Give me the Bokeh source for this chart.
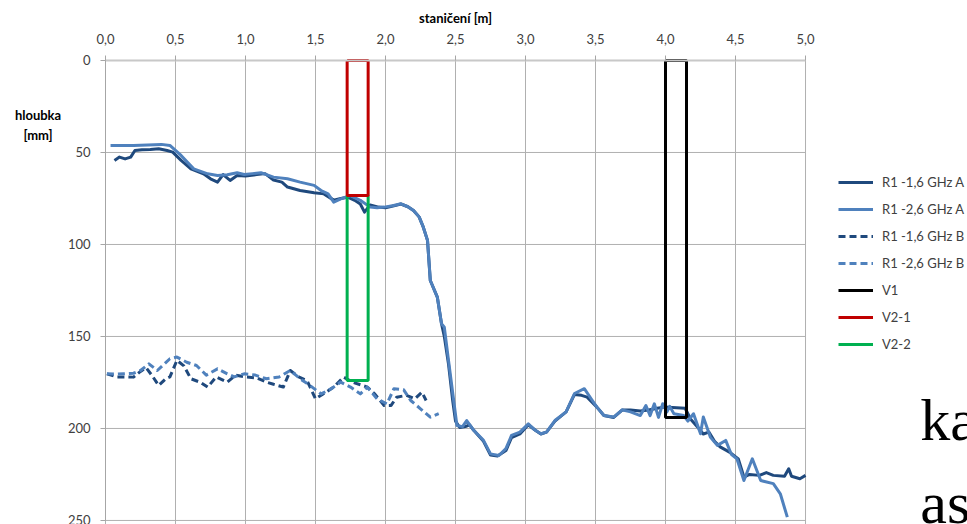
from bokeh.plotting import figure
from bokeh.models import Range1d, FixedTicker, Legend, LegendItem, Label
from bokeh.embed import file_html
from bokeh.resources import INLINE

# ---- data ----
x_ticks = [0.0, 0.5, 1.0, 1.5, 2.0, 2.5, 3.0, 3.5, 4.0, 4.5, 5.0]
x_tick_labels = ["0,0", "0,5", "1,0", "1,5", "2,0", "2,5", "3,0", "3,5", "4,0", "4,5", "5,0"]
y_ticks = [0, 50, 100, 150, 200, 250]

r16a_x = [0.064, 0.10, 0.14, 0.18, 0.21, 0.26, 0.32, 0.38, 0.44, 0.48, 0.54, 0.61, 0.70, 0.75, 0.80,
          0.84, 0.89, 0.94, 1.00, 1.08, 1.14, 1.20, 1.26, 1.30, 1.39, 1.49, 1.56, 1.63, 1.68, 1.73,
          1.78, 1.82, 1.85, 1.89, 1.95, 2.00, 2.06, 2.11, 2.16, 2.20, 2.24, 2.27, 2.30, 2.32, 2.37,
          2.40, 2.42, 2.45, 2.48, 2.50, 2.53, 2.57, 2.60, 2.63, 2.70, 2.75, 2.80, 2.86, 2.90, 2.96,
          3.02, 3.07, 3.11, 3.15, 3.21, 3.29, 3.35, 3.40, 3.44, 3.51, 3.56, 3.63, 3.69, 3.75, 3.82,
          3.88, 3.94, 3.99, 4.05, 4.14, 4.18, 4.23, 4.27, 4.31, 4.35, 4.39, 4.46, 4.52, 4.56, 4.60,
          4.67, 4.72, 4.77, 4.85, 4.88, 4.90, 4.96, 5.00]
r16a_y = [54.3, 52.5, 53.5, 52.5, 48.9, 48.5, 48.4, 48.0, 48.9, 49.8, 54.3, 58.9, 61.6, 64.3, 66.1,
          62.0, 65.2, 62.5, 62.8, 62.0, 61.5, 65.0, 66.1, 68.8, 70.7, 71.9, 72.5, 75.9, 75.0, 74.3,
          76.0, 78.0, 82.4, 78.5, 79.7, 80.0, 79.0, 78.0, 79.5, 81.5, 85.0, 90.6, 97.8, 119.6, 128.6,
          143.1, 150.0, 165.0, 185.0, 196.0, 199.5, 199.0, 198.0, 201.0, 207.0, 214.5, 215.0, 212.0, 205.0, 203.0,
          198.0, 201.0, 203.0, 202.0, 196.0, 191.0, 181.5, 182.0, 183.0, 188.4, 193.0, 194.0, 190.0, 190.0, 190.5,
          190.0, 189.0, 188.4, 188.6, 189.0, 195.0, 199.3, 203.0, 202.0, 207.0, 210.0, 213.0, 216.5, 226.4, 225.0,
          225.5, 224.0, 225.5, 226.0, 221.9, 226.0, 227.3, 225.5]

r26a_x = [0.036, 0.20, 0.35, 0.40, 0.46, 0.54, 0.63, 0.73, 0.80, 0.87, 0.94, 0.99, 1.05, 1.11, 1.20,
          1.30, 1.39, 1.49, 1.54, 1.59, 1.63, 1.68, 1.75, 1.82, 1.89, 1.94, 1.99, 2.05, 2.11, 2.16,
          2.20, 2.24, 2.27, 2.30, 2.32, 2.37, 2.40, 2.42, 2.45, 2.49, 2.51, 2.55, 2.58, 2.63, 2.70,
          2.75, 2.81, 2.86, 2.90, 2.96, 3.02, 3.07, 3.11, 3.15, 3.21, 3.29, 3.35, 3.42, 3.47, 3.51,
          3.56, 3.63, 3.69, 3.75, 3.82, 3.86, 3.89, 3.92, 3.95, 3.98, 4.01, 4.03, 4.06, 4.13, 4.16,
          4.20, 4.25, 4.27, 4.32, 4.37, 4.43, 4.47, 4.51, 4.56, 4.62, 4.68, 4.77, 4.82, 4.87]
r26a_y = [46.2, 46.2, 45.8, 45.6, 46.2, 51.6, 58.9, 61.6, 62.5, 62.1, 61.0, 62.0, 61.5, 61.0, 63.4,
          64.3, 66.1, 67.9, 70.7, 72.5, 77.0, 75.2, 73.4, 76.0, 79.7, 80.0, 79.7, 79.0, 77.9, 79.5,
          81.5, 85.0, 90.6, 97.8, 119.6, 128.6, 143.1, 145.0, 163.0, 186.6, 198.4, 199.0, 195.7, 201.0, 206.5,
          213.8, 214.7, 211.0, 203.8, 202.0, 197.5, 201.0, 202.9, 202.0, 195.7, 191.0, 181.0, 178.4, 184.0, 188.4,
          193.0, 193.8, 189.9, 191.0, 193.0, 187.5, 193.0, 186.6, 194.0, 186.6, 191.0, 188.0, 192.0, 193.0, 196.0,
          192.0, 202.9, 193.8, 204.7, 209.2, 206.5, 214.0, 216.5, 228.3, 216.5, 228.3, 230.0, 235.5, 248.2]

r16b_x = [0.01, 0.08, 0.14, 0.20, 0.25, 0.29, 0.33, 0.38, 0.43, 0.46, 0.51, 0.56, 0.61, 0.68, 0.73,
          0.79, 0.87, 0.93, 1.00, 1.08, 1.15, 1.20, 1.27, 1.32, 1.38, 1.44, 1.50, 1.56, 1.63, 1.70,
          1.77, 1.87, 1.92, 1.99, 2.04, 2.08, 2.15, 2.21, 2.26, 2.29]
r16b_y = [170.3, 172.0, 172.0, 172.1, 169.0, 167.0, 171.0, 176.6, 173.0, 172.0, 163.0, 166.0, 173.0, 175.0, 177.5,
          172.0, 174.8, 171.0, 172.0, 172.5, 174.8, 176.0, 177.5, 168.5, 172.0, 174.0, 183.9, 181.0, 177.5, 172.1,
          175.0, 177.5, 181.0, 187.5, 187.5, 183.0, 182.0, 183.9, 180.3, 184.8]

r26b_x = [0.01, 0.08, 0.13, 0.20, 0.25, 0.31, 0.37, 0.46, 0.51, 0.58, 0.65, 0.72, 0.80, 0.87, 0.92,
          0.99, 1.07, 1.15, 1.24, 1.32, 1.39, 1.46, 1.54, 1.61, 1.68, 1.75, 1.82, 1.87, 1.94, 2.01,
          2.06, 2.13, 2.18, 2.25, 2.32, 2.38]
r26b_y = [170.3, 170.5, 170.3, 170.0, 168.5, 164.9, 168.5, 162.1, 161.2, 164.0, 165.8, 171.0, 167.6, 170.3, 172.0,
          170.3, 171.0, 173.0, 172.0, 168.5, 173.0, 176.6, 181.2, 178.5, 174.8, 177.5, 181.2, 177.5, 183.9, 186.6,
          178.4, 179.0, 184.8, 189.3, 193.9, 192.0]

v1_x = [4.0, 4.0, 4.15, 4.15, 4.0]
v1_y = [0.0, 194.0, 194.0, 0.0, 0.0]
v21_x = [1.726, 1.726, 1.876, 1.876, 1.726]
v21_y = [0.0, 73.4, 73.4, 0.0, 0.0]
v22_x = [1.726, 1.726, 1.876, 1.876, 1.726]
v22_y = [73.4, 174.0, 174.0, 73.4, 73.4]

series_names = ["R1 -1,6 GHz A", "R1 -2,6 GHz A", "R1 -1,6 GHz B", "R1 -2,6 GHz B", "V1", "V2-1", "V2-2"]

DARK = "#1F497D"
LIGHT = "#4F81BD"
FONT = "Lato"
GRID = "#b0b0b0"

# frame spans the whole canvas; axes are fixed at the data origin and bounded to the data area
p = figure(width=967, height=524, output_backend="svg", toolbar_location=None,
           x_range=Range1d(-0.75, 6.157), y_range=Range1d(252.2, -32.6), x_axis_location="above",
           min_border_left=0, min_border_right=0, min_border_top=0, min_border_bottom=0)

p.background_fill_color = "white"
p.border_fill_color = "white"
p.outline_line_color = None

xa = p.xaxis[0]
xa.fixed_location = 0
xa.bounds = (x_ticks[0], x_ticks[-1])
xa.ticker = FixedTicker(ticks=x_ticks)
xa.major_label_overrides = {t: l for t, l in zip(x_ticks, x_tick_labels)}
xa.minor_tick_line_color = None
xa.major_tick_out = 5
xa.major_tick_in = 0
xa.major_tick_line_color = "#a6a6a6"
xa.axis_line_color = "#c8c8c8"
xa.axis_line_width = 2
xa.major_label_text_font = FONT
xa.major_label_text_font_size = "13px"
xa.major_label_text_color = "#404040"
xa.major_label_standoff = 11
xa.axis_label = "staničení [m]"
xa.axis_label_text_font = FONT
xa.axis_label_text_font_size = "13px"
xa.axis_label_text_font_style = "bold"
xa.axis_label_text_color = "#000000"
xa.axis_label_standoff = 6

ya = p.yaxis[0]
ya.fixed_location = 0
ya.bounds = (y_ticks[0], y_ticks[-1])
ya.ticker = FixedTicker(ticks=y_ticks)
ya.minor_tick_line_color = None
ya.major_tick_out = 5
ya.major_tick_in = 0
ya.major_tick_line_color = "#a6a6a6"
ya.axis_line_color = "#a6a6a6"
ya.major_label_text_font = FONT
ya.major_label_text_font_size = "13px"
ya.major_label_text_color = "#404040"
ya.major_label_standoff = 10

p.xgrid.grid_line_color = None
p.ygrid.grid_line_color = None
# grid lines limited to the data area
p.segment(x0=x_ticks[0], x1=x_ticks[-1], y0=y_ticks, y1=y_ticks, line_color=GRID, line_width=1)
p.segment(x0=x_ticks, x1=x_ticks, y0=y_ticks[0], y1=p.y_range.start, line_color=GRID, line_width=1)

r1 = p.line(r16a_x, r16a_y, line_color=DARK, line_width=3, line_join="round")
r2 = p.line(r26a_x, r26a_y, line_color=LIGHT, line_width=3, line_join="round")
r3 = p.line(r16b_x, r16b_y, line_color=DARK, line_width=3, line_dash="7 4", line_join="round")
r4 = p.line(r26b_x, r26b_y, line_color=LIGHT, line_width=3, line_dash="7 4", line_join="round")
r5 = p.line(v1_x, v1_y, line_color="#000000", line_width=3)
r7 = p.line(v22_x, v22_y, line_color="#00B050", line_width=3)
r6 = p.line(v21_x, v21_y, line_color="#C00000", line_width=3)

legend = Legend(items=[LegendItem(label=n, renderers=[r]) for n, r in
                       zip(series_names, [r1, r2, r3, r4, r5, r6, r7])],
                location=(838, 170), padding=0, margin=0, spacing=7,
                glyph_width=35, glyph_height=20, label_height=20, label_standoff=9,
                label_text_font=FONT, label_text_font_size="13px", label_text_color="#404040",
                border_line_alpha=0, background_fill_alpha=0)
p.add_layout(legend, "center")

p.add_layout(Label(x=-0.482, y=29.9, text="hloubka", text_align="center", text_baseline="middle",
                   text_font=FONT, text_font_size="13px", text_font_style="bold", text_color="#000000"))
p.add_layout(Label(x=-0.482, y=40.6, text="[mm]", text_align="center", text_baseline="middle",
                   text_font=FONT, text_font_size="13px", text_font_style="bold", text_color="#000000"))

p.add_layout(Label(x=5.82, y=195.2, text="ka", text_align="left", text_baseline="alphabetic",
                   text_font="Liberation Serif", text_font_size="60px", text_color="#000000"))
p.add_layout(Label(x=5.82, y=240.3, text="as", text_align="left", text_baseline="alphabetic",
                   text_font="Liberation Serif", text_font_size="60px", text_color="#000000"))

open("out.html", "w").write(file_html(p, INLINE))
